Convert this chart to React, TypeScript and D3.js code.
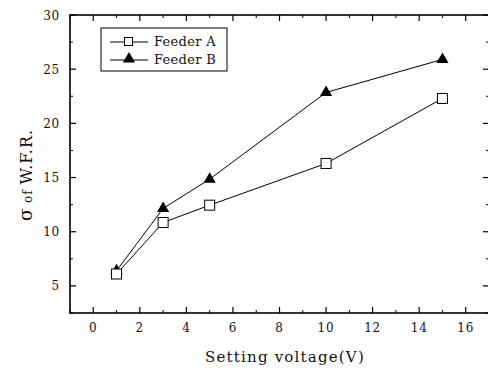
import React from "react";
import * as d3 from "d3";

const voltages = [1, 3, 5, 10, 15];
const feederA = [6.1, 10.85, 12.45, 16.3, 22.3];
const feederB = [6.4, 12.15, 14.85, 22.85, 25.9];
const xTicks = [0, 2, 4, 6, 8, 10, 12, 14, 16];
const xMinor = [-1, 1, 3, 5, 7, 9, 11, 13, 15, 17];
const yTicks = [5, 10, 15, 20, 25, 30];
const yMinor = [2.5, 7.5, 12.5, 17.5, 22.5, 27.5];

const W = 488, H = 371;
const L = 70, R = 489, T = 15, B = 313;
const FONT = "DejaVu Serif";

export default function App() {
  const x = d3.scaleLinear().domain([-1, 17]).range([L, R]);
  const y = d3.scaleLinear().domain([2.5, 30]).range([B, T]);
  const line = d3.line<number>().x((_, i) => x(voltages[i])).y(d => y(d));
  const tri = d3.symbol().type(d3.symbolTriangle).size(64)();
  return (
    <svg width={W} height={H} style={{ position: "absolute", left: 0, top: 0, background: "#fff" }}>
      <rect x={0} y={0} width={W} height={H} fill="#fff" />
      <rect x={L} y={T} width={R - L} height={B - T} fill="none" stroke="#000" strokeWidth={1.6} />
      {xTicks.map(t => (
        <g key={"xt" + t}>
          <line x1={x(t)} x2={x(t)} y1={B} y2={B - 6} stroke="#000" strokeWidth={1.2} />
          <line x1={x(t)} x2={x(t)} y1={T} y2={T + 6} stroke="#000" strokeWidth={1.2} />
          <text x={x(t)} y={332} textAnchor="middle" fontFamily={FONT} fontSize={12} letterSpacing={0.8} fill="#111">{t}</text>
        </g>
      ))}
      {xMinor.map(t => (
        <g key={"xm" + t}>
          <line x1={x(t)} x2={x(t)} y1={B} y2={B - 3} stroke="#000" strokeWidth={1} />
          <line x1={x(t)} x2={x(t)} y1={T} y2={T + 3} stroke="#000" strokeWidth={1} />
        </g>
      ))}
      {yTicks.map(t => (
        <g key={"yt" + t}>
          <line x1={L} x2={L + 6} y1={y(t)} y2={y(t)} stroke="#000" strokeWidth={1.2} />
          <line x1={R} x2={R - 6} y1={y(t)} y2={y(t)} stroke="#000" strokeWidth={1.2} />
          <text x={60} y={y(t) + 4.5} textAnchor="end" fontFamily={FONT} fontSize={12} letterSpacing={0.8} fill="#111">{t}</text>
        </g>
      ))}
      {yMinor.map(t => (
        <g key={"ym" + t}>
          <line x1={L} x2={L + 3} y1={y(t)} y2={y(t)} stroke="#000" strokeWidth={1} />
          <line x1={R} x2={R - 3} y1={y(t)} y2={y(t)} stroke="#000" strokeWidth={1} />
        </g>
      ))}
      <path d={line(feederA) || ""} fill="none" stroke="#000" strokeWidth={1} />
      <path d={line(feederB) || ""} fill="none" stroke="#000" strokeWidth={1} />
      {feederB.map((v, i) => (
        <path key={"b" + i} d={tri || ""} transform={`translate(${x(voltages[i])},${y(v)})`} fill="#000" />
      ))}
      {feederA.map((v, i) => (
        <rect key={"a" + i} x={x(voltages[i]) - 5} y={y(v) - 5} width={10} height={10} fill="#fff" stroke="#000" strokeWidth={1} />
      ))}
      <rect x={101} y={28} width={126} height={43} fill="#fff" stroke="#000" strokeWidth={1} />
      <line x1={110} x2={148} y1={42} y2={42} stroke="#000" strokeWidth={1} />
      <rect x={124.5} y={37.5} width={8} height={8} fill="#fff" stroke="#000" strokeWidth={1} />
      <text x={154} y={46} fontFamily={FONT} fontSize={13} letterSpacing={0.3} fill="#111">Feeder A</text>
      <line x1={110} x2={148} y1={60} y2={60} stroke="#000" strokeWidth={1} />
      <path d={tri || ""} transform="translate(129,59)" fill="#000" />
      <text x={154} y={64} fontFamily={FONT} fontSize={13} letterSpacing={0.3} fill="#111">Feeder B</text>
      <text x={285} y={362} textAnchor="middle" fontFamily={FONT} fontSize={15} letterSpacing={1.2} fill="#111">Setting voltage(V)</text>
      <text transform="translate(32,175) rotate(-90)" textAnchor="middle" fontFamily={FONT} fontSize={16} letterSpacing={1} fill="#111">
        <tspan fontSize={18}>σ</tspan><tspan fontSize={12}> of </tspan><tspan> W.F.R.</tspan>
      </text>
    </svg>
  );
}
